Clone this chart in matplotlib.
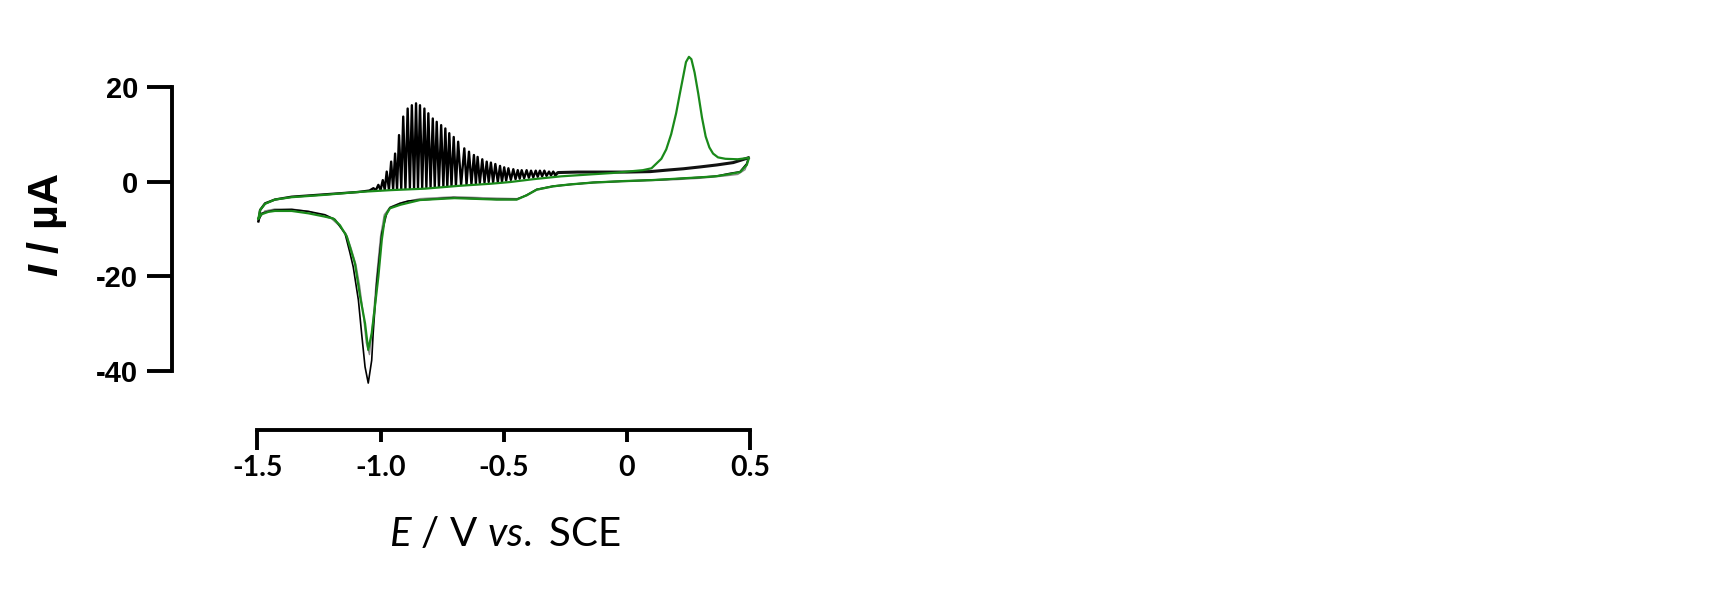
import matplotlib
matplotlib.use("Agg")
import matplotlib.pyplot as plt
from matplotlib.ticker import FixedLocator, FixedFormatter

plt.rcParams['mathtext.fontset'] = 'custom'
plt.rcParams['mathtext.rm'] = 'Lato'
plt.rcParams['mathtext.it'] = 'Lato:italic'
plt.rcParams['mathtext.bfit'] = 'Liberation Sans:italic:bold'

# ---- data (E in V vs SCE, I in uA) ----
# green scan
green_E = [-1.496, -1.489, -1.469, -1.429, -1.361, -1.226, -1.09, -0.955, -0.82, -0.681,
           -0.55, -0.474, -0.38, -0.267, -0.15, -0.06, 0.065, 0.10, 0.14, 0.16, 0.18,
           0.20, 0.215, 0.23, 0.24, 0.252, 0.262, 0.275, 0.29, 0.305, 0.32, 0.335,
           0.35, 0.37, 0.40, 0.45, 0.496,
           0.487, 0.46, 0.42, 0.36, 0.3, 0.2, 0.1, -0.014, -0.136, -0.231, -0.299, -0.366,
           -0.407, -0.447, -0.53, -0.7, -0.84, -0.92, -0.962, -0.982, -0.995, -1.009,
           -1.023, -1.036, -1.05, -1.063, -1.083, -1.104, -1.137, -1.165, -1.192, -1.226,
           -1.293, -1.361, -1.429, -1.456, -1.483, -1.496]
green_I = [-7.8, -6.0, -4.7, -3.8, -3.3, -2.8, -2.2, -1.8, -1.5, -0.9,
           -0.45, -0.1, 0.5, 1.1, 1.5, 1.8, 2.4, 2.8, 4.8, 6.8, 10.0,
           14.4, 18.5, 22.5, 25.2, 26.3, 25.8, 23.0, 18.5, 13.5, 9.5, 7.2,
           5.9, 5.1, 4.8, 4.7, 5.0,
           3.5, 2.0, 1.6, 1.1, 0.9, 0.6, 0.3, 0.1, -0.2, -0.6, -1.0, -1.7,
           -2.9, -3.8, -3.8, -3.5, -3.9, -4.9, -5.65, -7.4, -12.3, -20.1,
           -26.4, -32.0, -35.5, -29.9, -24.3, -17.3, -11.6, -9.2, -7.8, -7.4,
           -6.7, -6.2, -6.2, -6.4, -6.9, -7.8]

# black scan: baseline before the oscillations
black_start_E = [-1.496, -1.489, -1.469, -1.429, -1.361, -1.226, -1.09, -1.045]
black_start_I = [-8.4, -6.0, -4.6, -3.8, -3.2, -2.7, -2.2, -1.9]

# black scan: oscillation peaks and the troughs that follow them
osc_peak_E = [-1.029, -1.009, -0.991, -0.975, -0.957, -0.941, -0.925, -0.908, -0.890, -0.873,
              -0.856, -0.840, -0.822, -0.806, -0.788, -0.772, -0.754, -0.737, -0.721, -0.703,
              -0.685, -0.660, -0.641, -0.621, -0.606, -0.587, -0.569, -0.552, -0.534, -0.515,
              -0.498, -0.481, -0.461, -0.443, -0.427, -0.407, -0.389, -0.370, -0.353, -0.335,
              -0.316, -0.299]
osc_peak_I = [-1.4, -0.7, 0.3, 2.1, 4.2, 5.9, 9.8, 13.7, 15.4, 16.1,
              16.5, 16.1, 15.4, 14.4, 13.3, 12.6, 11.9, 11.2, 10.2, 9.4,
              8.4, 7.0, 6.3, 5.6, 5.2, 4.7, 4.2, 4.0, 3.7, 3.3,
              3.0, 2.8, 2.6, 2.4, 2.4, 2.4, 2.3, 2.3, 2.3, 2.3,
              2.1, 2.1]
osc_trough_E = [-1.019, -1.000, -0.983, -0.966, -0.949, -0.933, -0.916, -0.899, -0.881, -0.864,
                -0.848, -0.831, -0.814, -0.797, -0.780, -0.763, -0.745, -0.729, -0.712, -0.694,
                -0.673, -0.651, -0.631, -0.613, -0.597, -0.578, -0.561, -0.543, -0.524, -0.507,
                -0.490, -0.471, -0.452, -0.435, -0.417, -0.398, -0.380, -0.362, -0.344, -0.326,
                -0.308, -0.290]
osc_trough_I = [-1.8, -1.8, -1.7, -1.7, -1.6, -1.6, -1.5, -1.5, -1.4, -1.4,
                -1.3, -1.3, -1.2, -1.2, -1.1, -1.1, -1.0, -1.0, -0.9, -0.9,
                -0.7, -0.6, -0.5, -0.4, -0.3, -0.2, -0.1, -0.2, -0.1, 0.0,
                0.2, 0.35, 0.5, 0.6, 0.7, 0.8, 0.9, 1.0, 1.1, 1.2,
                1.3, 1.4]

# black scan: end of the forward sweep (fine ripple)
black_tail_E = [-0.290, -0.28, -0.2, -0.1, 0.0, 0.095, 0.16, 0.23, 0.3, 0.365, 0.432, 0.493]
black_tail_I = [1.4, 1.9, 2.0, 2.0, 2.0, 2.1, 2.4, 2.7, 3.1, 3.5, 4.0, 5.0]

# black scan: reverse sweep
black_rev_E = [0.493, 0.487, 0.459, 0.419, 0.365, 0.297, 0.229, 0.162, 0.095, -0.014, -0.136,
               -0.231, -0.299, -0.366, -0.407, -0.447, -0.528, -0.705, -0.84, -0.888,
               -0.921, -0.962, -0.975, -0.995, -1.016, -1.030, -1.036, -1.050, -1.063,
               -1.077, -1.090, -1.111, -1.124, -1.144, -1.185, -1.226, -1.293, -1.361,
               -1.429, -1.456, -1.483, -1.496]
black_rev_I = [5.0, 3.8, 2.07, 1.73, 1.16, 0.89, 0.68, 0.46, 0.32, 0.1, -0.17,
               -0.6, -0.95, -1.65, -2.85, -3.76, -3.76, -3.4, -3.9, -4.1,
               -4.6, -5.5, -6.7, -10.9, -21.5, -32.0, -37.7, -42.5, -39.1,
               -32.0, -25.0, -18.0, -15.1, -11.0, -8.0, -7.0, -6.3, -5.9,
               -6.0, -6.3, -6.7, -8.4]

# gray scan (reverse sweep)
gray_E = [0.496, 0.48, 0.45, 0.4, 0.3, 0.2, 0.1, 0.0, -0.136, -0.231, -0.3, -0.366, -0.407,
          -0.447, -0.53, -0.7, -0.84, -0.92, -0.962, -0.985, -1.0, -1.016, -1.03, -1.045,
          -1.058, -1.07, -1.085, -1.1, -1.12, -1.14, -1.17, -1.2, -1.29, -1.36, -1.43,
          -1.47, -1.496]
gray_I = [5.0, 2.5, 1.5, 1.2, 0.7, 0.4, 0.2, 0.0, -0.3, -0.7, -1.1, -1.8, -3.0,
          -3.6, -3.5, -3.2, -3.6, -4.5, -5.4, -7.0, -11.5, -20.0, -29.0, -36.5,
          -34.0, -28.0, -22.0, -17.5, -14.0, -11.0, -9.2, -7.8, -6.3, -5.8, -5.8,
          -6.2, -8.0]

x_major = [-1.5, 0.5]
x_major_labels = ['-1.5', '0.5']
x_minor = [-1.0, -0.5, 0.0]
x_minor_labels = ['-1.0', '-0.5', '0']
y_ticks = [-40, -20, 0, 20]
y_labels = ['-40', '-20', '0', '20']

# black forward sweep with oscillations: trough, peak, trough, ...
black_E = list(black_start_E)
black_I = list(black_start_I)
for pe, pi, te, ti in zip(osc_peak_E, osc_peak_I, osc_trough_E, osc_trough_I):
    black_E += [pe, te]
    black_I += [pi, ti]

fig = plt.figure(figsize=(17.3, 5.89), dpi=100)
ax = fig.add_axes([0.09925, 0.26995, 0.3414, 0.6472])

ax.plot(gray_E, gray_I, color='#8a8a8a', lw=1.0)
ax.plot(black_rev_E, black_rev_I, color='black', lw=1.2)
ax.plot(black_tail_E, black_tail_I, color='#111111', lw=2.2)
ax.plot(black_E, black_I, color='black', lw=1.7)
ax.plot(green_E, green_I, color='#1a8a1a', lw=1.6)

ax.set_xlim(-1.848, 0.55)
ax.set_ylim(-52.4, 28)

for s in ['top', 'right']:
    ax.spines[s].set_visible(False)
ax.spines['left'].set_bounds(-40, 20)
ax.spines['bottom'].set_bounds(-1.5, 0.5)
ax.spines['left'].set_linewidth(2.8)
ax.spines['bottom'].set_linewidth(2.8)

ax.set_yticks(y_ticks)
ax.set_yticklabels(y_labels, fontfamily='Liberation Sans', fontweight='bold', fontsize=21)
ax.tick_params(axis='y', length=18, width=2.8, pad=6)

ax.xaxis.set_major_locator(FixedLocator(x_major))
ax.xaxis.set_major_formatter(FixedFormatter(x_major_labels))
ax.xaxis.set_minor_locator(FixedLocator(x_minor))
ax.xaxis.set_minor_formatter(FixedFormatter(x_minor_labels))
ax.tick_params(axis='x', which='major', length=14.4, width=2.8, pad=3.5)
ax.tick_params(axis='x', which='minor', length=8.4, width=2.8, pad=9.5)
for lab in ax.get_xticklabels(which='both'):
    lab.set_fontfamily('Lato')
    lab.set_fontweight('bold')
    lab.set_fontsize(20.5)

fig.text(505 / 1730, 1 - 546 / 589, r'$\mathit{E}$ / V $\mathit{vs.}$ SCE',
         fontfamily='Lato', fontsize=29, ha='center', va='baseline')
fig.text(47 / 1730, 1 - 225 / 589, r'$\mathbfit{I}$ / µA',
         fontfamily='Liberation Sans', fontweight='bold', fontsize=31,
         rotation=90, ha='center', va='center')

fig.savefig('out.png', dpi=100)
